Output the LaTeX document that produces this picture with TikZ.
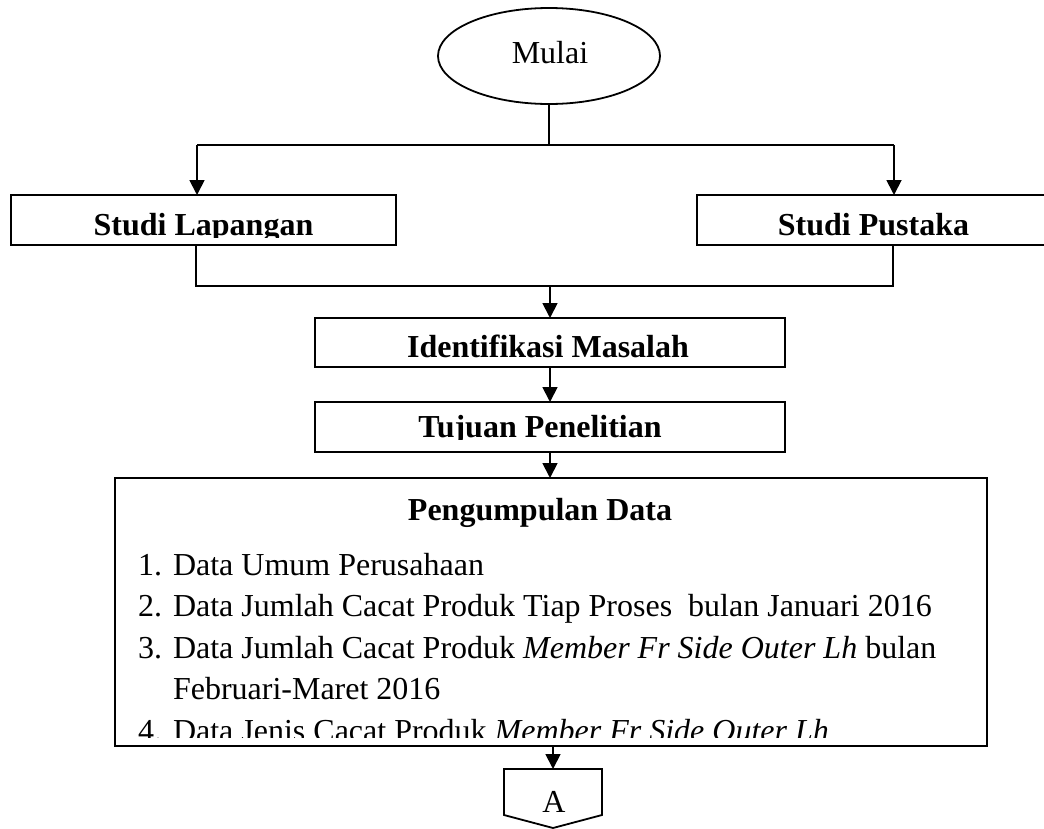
\documentclass[tikz,border=0pt]{standalone}
\usepackage{fontspec}
\setmainfont{Liberation Serif}
\usetikzlibrary{arrows.meta,shapes.geometric}
\begin{document}
\begin{tikzpicture}[x=1pt,y=-1pt,
  every node/.style={font=\fontsize{32}{41.5}\selectfont, inner sep=0pt, outer sep=0pt},
  box/.style={draw, rectangle, line width=2.4pt},
  link/.style={line width=1.8pt},
  arr/.style={link, -{Triangle[length=15pt,width=15pt]}},
  txt/.style={anchor=base},
  item/.style={anchor=base west},
  bold/.style={anchor=base, font=\fontsize{32}{38}\selectfont\bfseries}]
\useasboundingbox (0,0) rectangle (1044,828);
\fill[white] (0,0) rectangle (1044,828);

% start terminal
\node[draw, ellipse, line width=1.8pt, minimum width=222pt, minimum height=96pt] (mulai) at (549,56) {};
\node[txt] (mulaitxt) at (550,63) {Mulai};

% process boxes
\node[box, minimum width=385pt, minimum height=50pt] (lap) at (203.5,220) {};
\node[box, minimum width=353pt, minimum height=50pt] (pus) at (873.5,220) {};
\node[box, minimum width=470pt, minimum height=49pt] (ident) at (550,342.5) {};
\node[box, minimum width=470pt, minimum height=50pt] (tujuan) at (550,427) {};
\node[box, minimum width=872pt, minimum height=268pt] (peng) at (551,612) {};

% box captions, cut off at the lower text margin
\begin{scope}
  \clip (11,195) rectangle (396,237);
  \node[bold] (laptxt) at (203.5,235) {Studi Lapangan};
\end{scope}
\begin{scope}
  \clip (697,195) rectangle (1044,237);
  \node[bold] (pustxt) at (873.5,235) {Studi Pustaka};
\end{scope}
\begin{scope}
  \clip (315,318) rectangle (785,359);
  \node[bold] (identtxt) at (548,357) {Identifikasi Masalah};
\end{scope}
\begin{scope}
  \clip (315,402) rectangle (785,439);
  \node[bold] (tujuantxt) at (540,437) {Tujuan Penelitian};
\end{scope}

% data collection list
\node[bold] (pengtxt) at (540,520) {Pengumpulan Data};
\node[item] (n1) at (138,575) {1.};
\node[item] (l1) at (173,575) {Data Umum Perusahaan};
\node[item] (n2) at (138,616.5) {2.};
\node[item] (l2) at (173,616.5) {Data Jumlah Cacat Produk Tiap Proses~ bulan Januari 2016};
\node[item] (n3) at (138,658) {3.};
\node[item] (l3) at (173,658) {Data Jumlah Cacat Produk \textit{Member Fr Side Outer Lh} bulan};
\node[item] (l3b) at (173,699.5) {Februari-Maret 2016};
\begin{scope}
  \clip (115,705) rectangle (987,737);
  \node[item] (n4) at (138,741) {4.};
  \node[item] (l4) at (173,741) {Data Jenis Cacat Produk \textit{Member Fr Side Outer Lh}};
\end{scope}

% off-page connector
\node[minimum width=98pt, minimum height=46pt] (conA) at (553,792) {};
\draw[line width=1.8pt] (conA.north west) -- (conA.north east) -- (conA.south east)
  -- (553,828) -- (conA.south west) -- cycle;
\node[txt] (conAtxt) at (554,812) {A};

% connectors
\coordinate (splitL) at (197,145);
\coordinate (splitR) at (894,145);
\draw[link] (mulai.south) -- (mulai.south |- splitL);
\draw[line width=2.4pt] (splitL) -- (splitR);
\draw[arr] (splitL) -- (splitL |- lap.north);
\draw[arr] (splitR) -- (splitR |- pus.north);

\coordinate (joinL) at (196,286);
\coordinate (joinR) at (893,286);
\coordinate (joinM) at (550,286);
\draw[link] (joinL |- lap.south) -- (joinL) -- (joinR) -- (joinR |- pus.south);
\draw[arr] (joinM) -- (ident.north);
\draw[arr] (ident.south) -- (tujuan.north);
\draw[arr] (tujuan.south) -- (tujuan.south |- peng.north);
\draw[arr] (peng.south -| conA) -- (conA.north);
\end{tikzpicture}
\end{document}
